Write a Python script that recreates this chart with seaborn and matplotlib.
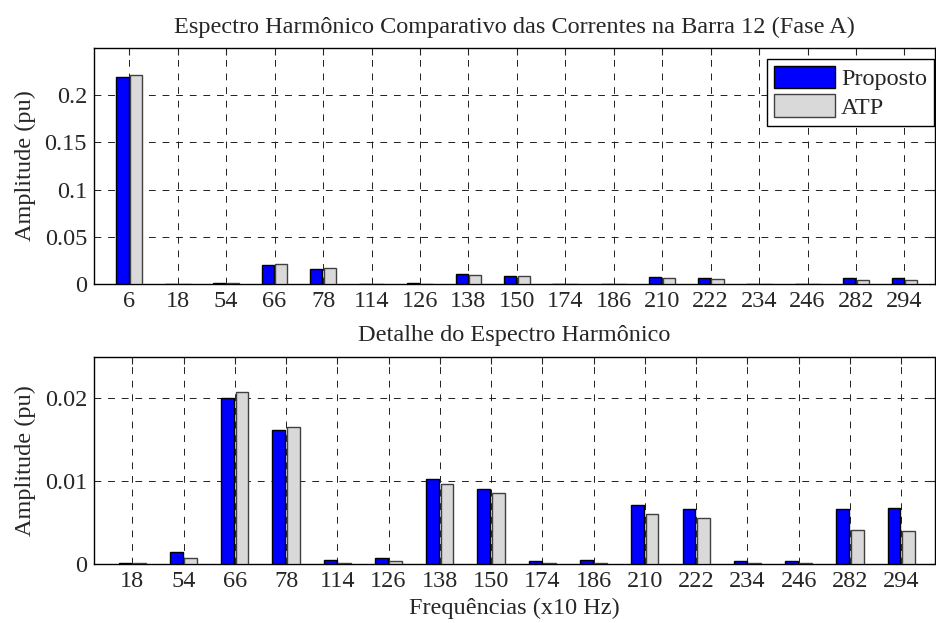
import seaborn as sns
import matplotlib as mpl
import matplotlib.pyplot as plt
import pandas as pd
import numpy as np
from matplotlib.patches import Patch
from matplotlib.ticker import FuncFormatter

mpl.use('Agg')

# harmonic orders (x10 Hz) and amplitudes (pu)
harmonicas = [6, 18, 54, 66, 78, 114, 126, 138, 150, 174, 186, 210, 222, 234, 246, 282, 294]
proposto = [0.2194, 0.00016, 0.0014, 0.0200, 0.0162, 0.0005, 0.0007, 0.0102, 0.0090,
            0.00036, 0.0005, 0.0071, 0.0066, 0.00036, 0.00036, 0.0066, 0.0067]
atp = [0.2212, 0.00015, 0.0007, 0.0207, 0.0165, 0.0001, 0.00036, 0.0097, 0.0086,
       0.0001, 0.00015, 0.0060, 0.0055, 0.0001, 0.0001, 0.0041, 0.0040]
series = ["Proposto", "ATP"]
cores = {"Proposto": "#0000ff", "ATP": "#d9d9d9"}
bordas = {"Proposto": "#000000", "ATP": "#404040"}

sns.set_style("white")
plt.rcParams['font.family'] = ['Liberation Serif', 'DejaVu Serif']
plt.rcParams['font.size'] = 17.5
FS = 17.5


def long_df(idx):
    h = [harmonicas[i] for i in idx]
    return pd.DataFrame({
        "h": [str(x) for x in h] * 2,
        "amp": [proposto[i] for i in idx] + [atp[i] for i in idx],
        "serie": ["Proposto"] * len(h) + ["ATP"] * len(h),
    }), [str(x) for x in h]


def desenha(ax, idx, ymax, yticks, xl):
    df, ordem = long_df(idx)
    sns.barplot(data=df, x="h", y="amp", hue="serie", order=ordem, hue_order=series,
                palette=cores, saturation=1, width=0.56, gap=0.107, ax=ax,
                legend=False, zorder=3)
    for cont, s in zip(ax.containers, series):
        for b in cont:
            b.set_edgecolor(bordas[s])
            b.set_linewidth(1.0)
    ax.set_ylim(0, ymax)
    ax.set_yticks(yticks)
    ax.yaxis.set_major_formatter(FuncFormatter(lambda v, p: "%g" % v))
    ax.set_xlim(*xl)
    ax.grid(True, color='#202020', linestyle=(0, (7, 7)), linewidth=0.7)
    ax.set_axisbelow(True)
    ax.tick_params(direction='in', length=5, width=0.8, top=True, right=True,
                   labelsize=FS, pad=5)
    for sp in ax.spines.values():
        sp.set_color('black')
        sp.set_linewidth(1.0)
    ax.set_ylabel("Amplitude (pu)", fontsize=FS, labelpad=6)
    ax.set_xlabel("")


fig = plt.figure(figsize=(9.36, 6.23), dpi=100)
ax1 = fig.add_axes([94 / 936, 1 - 284 / 623, 840.5 / 936, 236 / 623])
ax2 = fig.add_axes([94 / 936, 1 - 564 / 623, 840.5 / 936, 207.3 / 623])

desenha(ax1, list(range(len(harmonicas))), 0.25, [0, 0.05, 0.1, 0.15, 0.2], (-0.728, 16.62))
desenha(ax2, list(range(1, len(harmonicas))), 0.025, [0, 0.01, 0.02], (-0.746, 15.65))

ax1.set_title("Espectro Harmônico Comparativo das Correntes na Barra 12 (Fase A)",
              fontsize=FS, pad=11)
ax2.set_title("Detalhe do Espectro Harmônico", fontsize=FS, pad=11)
ax2.set_xlabel("Frequências (x10 Hz)", fontsize=FS, labelpad=4)

handles = [Patch(facecolor=cores[s], edgecolor=bordas[s], label=s) for s in series]
leg = ax1.legend(handles=handles, loc='upper right', bbox_to_anchor=(0.9995, 0.955),
                 borderaxespad=0, frameon=True, fancybox=False, framealpha=1,
                 edgecolor='black', handlelength=2.5, handleheight=1.05,
                 handletextpad=0.25, labelspacing=0.15, borderpad=0.3, fontsize=FS)
leg.get_frame().set_linewidth(1.0)
leg.set_zorder(10)

plt.savefig("out.png", dpi=100)
